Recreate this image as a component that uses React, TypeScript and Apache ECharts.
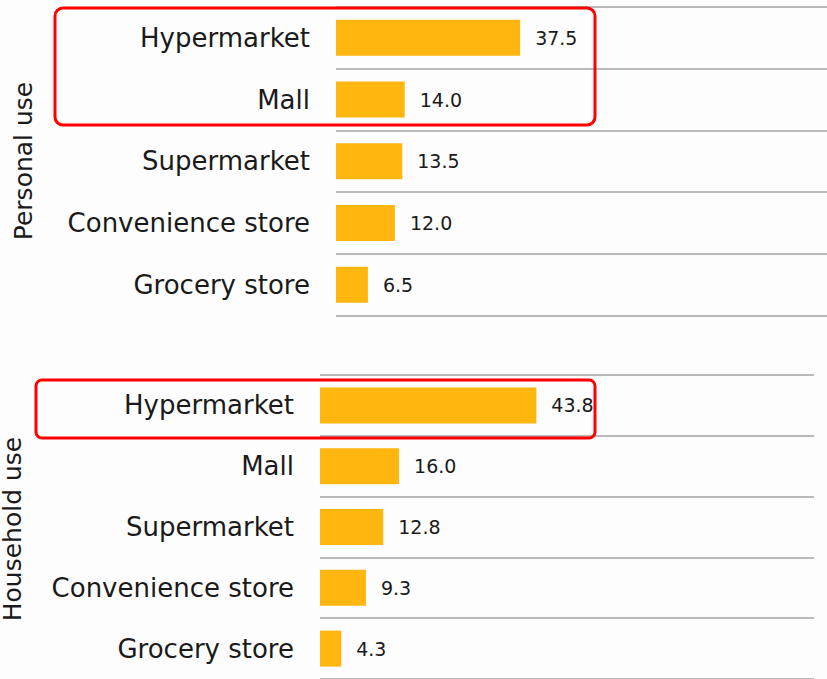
import React, { useEffect, useRef } from "react";
import * as echarts from "echarts";

const categories = ["Hypermarket", "Mall", "Supermarket", "Convenience store", "Grocery store"];
const personalValues = [37.5, 14.0, 13.5, 12.0, 6.5];
const householdValues = [43.8, 16.0, 12.8, 9.3, 4.3];
const panelTitles = ["Personal use", "Household use"];

const FONT = "DejaVu Sans";
const BAR = "#FFB60F";
const LINE = "#a3a3a3";
const TEXT = "#1a1a1a";

export default function App() {
  const ref = useRef<HTMLDivElement>(null);
  useEffect(() => {
    if (!ref.current) return;
    const chart = echarts.init(ref.current, null, { renderer: "svg" });
    const yAxisBase = (gridIndex: number) => ({
      type: "category" as const,
      gridIndex,
      data: categories,
      inverse: true,
      axisLine: { show: false },
      axisTick: { show: false },
      axisLabel: { fontSize: 26, color: TEXT, fontFamily: FONT, margin: 26 },
      splitLine: { show: true, lineStyle: { color: LINE, width: 1.5 } },
    });
    const xAxisBase = (gridIndex: number) => ({
      type: "value" as const,
      gridIndex,
      min: 0,
      max: 100,
      show: false,
    });
    const seriesBase = (i: number, data: number[]) => ({
      type: "bar" as const,
      xAxisIndex: i,
      yAxisIndex: i,
      data,
      barWidth: 36,
      itemStyle: { color: BAR },
      label: {
        show: true,
        position: "right" as const,
        distance: 15,
        fontSize: 19,
        color: TEXT,
        fontFamily: FONT,
        formatter: (p: any) => Number(p.value).toFixed(1),
      },
    });
    chart.setOption({
      animation: false,
      backgroundColor: "#fdfdfd",
      textStyle: { fontFamily: FONT },
      grid: [
        { left: 336, top: 7, width: 494, height: 308.7 },
        { left: 320, top: 375, width: 494, height: 308.7 },
      ],
      xAxis: [xAxisBase(0), xAxisBase(1)],
      yAxis: [yAxisBase(0), yAxisBase(1)],
      series: [seriesBase(0, personalValues), seriesBase(1, householdValues)],
      graphic: [
        {
          type: "text",
          x: 23,
          y: 161,
          rotation: Math.PI / 2,
          style: {
            text: panelTitles[0],
            fontSize: 25,
            fontFamily: FONT,
            fill: TEXT,
            textAlign: "center",
            textVerticalAlign: "middle",
          },
        },
        {
          type: "text",
          x: 12,
          y: 529,
          rotation: Math.PI / 2,
          style: {
            text: panelTitles[1],
            fontSize: 25,
            fontFamily: FONT,
            fill: TEXT,
            textAlign: "center",
            textVerticalAlign: "middle",
          },
        },
        {
          type: "rect",
          shape: { x: 55, y: 8, width: 540, height: 117, r: 8 },
          style: { fill: "transparent", stroke: "#ff0000", lineWidth: 3 },
          z: 100,
        },
        {
          type: "rect",
          shape: { x: 36, y: 380, width: 559, height: 58, r: 6 },
          style: { fill: "transparent", stroke: "#ff0000", lineWidth: 3 },
          z: 100,
        },
      ],
    });
    return () => chart.dispose();
  }, []);
  return (
    <div
      ref={ref}
      style={{ position: "fixed", left: 0, top: 0, width: 827, height: 679 }}
    />
  );
}
